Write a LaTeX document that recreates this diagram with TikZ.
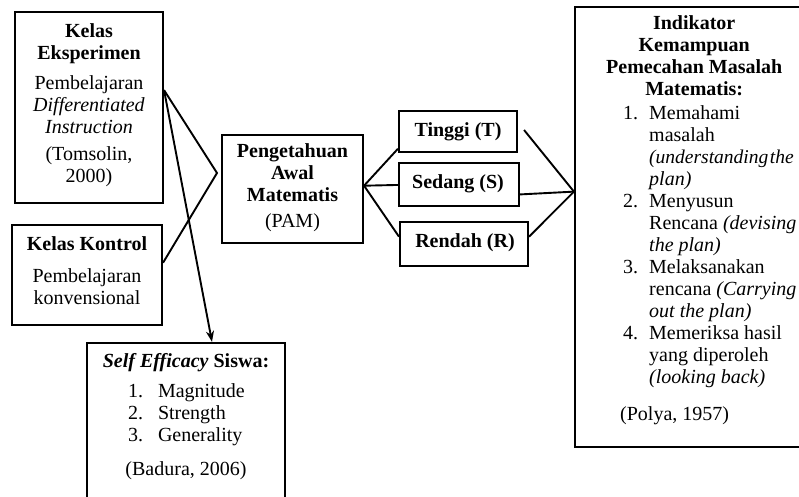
\documentclass[tikz,border=0pt]{standalone}
\usepackage{fontspec}
\setmainfont{Liberation Serif}
\usetikzlibrary{calc,arrows.meta}
\newcommand\selist[2]{\makebox[116pt][l]{\makebox[30pt][l]{#1}#2}}
\newcommand\inditem[1]{\hspace*{3pt}\makebox[26pt][l]{#1}}
\newcommand\indcont{\hspace*{29pt}}
\newcommand\indtitle[1]{\makebox[148pt][c]{\bfseries #1}}
\begin{document}
\begin{tikzpicture}[x=1pt,y=-1pt,
  box/.style={draw,line width=2.1pt,rectangle,inner sep=0pt},
  txt/.style={inner sep=0pt,align=center},
  conn/.style={line width=1.9pt,line join=miter},
  arr/.style={line width=1.9pt,-{Stealth[length=11pt,width=8pt]}},
  font=\fontsize{20}{22}\selectfont]
\useasboundingbox (0,0) rectangle (799,497);
\clip (0,0) rectangle (799,497);
\fill[white] (0,0) rectangle (799,497);

% boxes
\node[box,minimum width=148pt,minimum height=191pt] (eks) at (89,107.5) {};
\node[box,minimum width=150pt,minimum height=100pt] (kon) at (87,275) {};
\node[box,minimum width=198pt,minimum height=187pt] (se) at (186,436.5) {};
\node[box,minimum width=141pt,minimum height=108pt] (pam) at (292.5,189) {};
\node[box,minimum width=118pt,minimum height=41pt] (ti) at (458,131.5) {};
\node[box,minimum width=120pt,minimum height=43pt] (sd) at (459,184.5) {};
\node[box,minimum width=128pt,minimum height=44pt] (re) at (464,244) {};
\node[box,minimum width=270pt,minimum height=440pt] (ind) at (710,227) {};

% texts
\node[txt] (eksT) at (89,105) {\textbf{Kelas}\\\textbf{Eksperimen}\\[8pt]Pembelajaran\\\textit{Differentiated}\\\textit{Instruction}\\[5pt](Tomsolin,\\2000)};
\node[txt] (konT) at (87,270.5) {\textbf{Kelas Kontrol}\\[10pt]Pembelajaran\\konvensional};
\node[txt] (pamT) at (292.5,187.5) {\textbf{Pengetahuan}\\\textbf{Awal}\\\textbf{Matematis}\\[4pt](PAM)};
\node[txt] (tiT) at (458,132) {\textbf{Tinggi (T)}};
\node[txt] (sdT) at (458,184) {\textbf{Sedang (S)}};
\node[txt] (reT) at (465,243) {\textbf{Rendah (R)}};
\node[txt] (seT) at (186,417) {\textbf{\textit{Self Efficacy} Siswa:}\\[8pt]\selist{1.}{Magnitude}\\\selist{2.}{Strength}\\\selist{3.}{Generality}\\[12pt](Badura, 2006)};
\node[inner sep=0pt,align=left,anchor=west] (indT) at (620,220.5) {\indtitle{Indikator}\\\indtitle{Kemampuan}\\\indtitle{Pemecahan Masalah}\\\indtitle{Matematis:}\\[2pt]%
\inditem{1.}Memahami\\\indcont masalah\\\indcont{\fontsize{19.5}{22}\selectfont\textit{(understanding\hspace{1.5pt}the}}\\\indcont\textit{plan)}\\%
\inditem{2.}Menyusun\\\indcont Rencana \textit{(devising}\\\indcont\textit{the plan)}\\%
\inditem{3.}Melaksanakan\\\indcont rencana \textit{(Carrying}\\\indcont\textit{out the plan)}\\%
\inditem{4.}Memeriksa hasil\\\indcont yang diperoleh\\\indcont\textit{(looking back)}\\[15pt]%
(Polya, 1957)};

% connector points
\coordinate (apex) at (217,173);
\coordinate (e1) at ($(eks.north east)!0.41!(eks.south east)$);
\coordinate (k1) at ($(kon.north east)!0.38!(kon.south east)$);
\coordinate (s1) at ($(se.north west)!0.63!(se.north east)$);
\coordinate (p1) at ($(pam.north east)!0.47!(pam.south east)$);
\coordinate (tw) at ($(ti.north west)!0.9!(ti.south west)$);
\coordinate (sw) at ($(sd.north west)!0.51!(sd.south west)$);
\coordinate (rw) at ($(re.north west)!0.34!(re.south west)$);
\coordinate (te) at ($(ti.east)+(6,-1.5)$);
\coordinate (se1) at ($(sd.north east)!0.72!(sd.south east)$);
\coordinate (re1) at ($(re.north east)!0.34!(re.south east)$);
\coordinate (i1) at ($(ind.north west)!0.42!(ind.south west)$);

% connectors
\draw[conn] (e1) -- (apex) -- (k1);
\draw[arr] (e1) -- (s1);
\draw[conn] (tw) -- (p1) -- (rw);
\draw[conn] (p1) -- (sw);
\draw[conn] (te) -- (i1) -- (re1);
\draw[conn] (se1) -- (i1);
\end{tikzpicture}
\end{document}
